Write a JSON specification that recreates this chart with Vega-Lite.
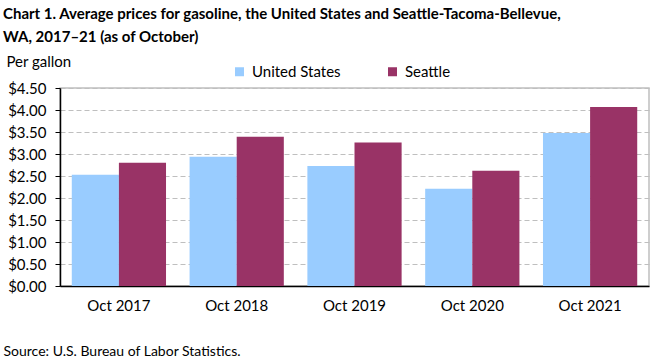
{
  "$schema": "https://vega.github.io/schema/vega-lite/v6.json",
  "width": 589,
  "height": 198,
  "autosize": {"type": "none"},
  "padding": {"left": 60, "top": 88, "right": 12, "bottom": 75},
  "background": "white",
  "config": {
    "font": "Lato",
    "view": {"stroke": "#bfbfbf", "strokeWidth": 1.5},
    "axis": {"labelFont": "Lato", "titleFont": "Lato"}
  },
  "title": {
    "text": ["Chart 1. Average prices for gasoline, the United States and Seattle-Tacoma-Bellevue,", "WA, 2017–21 (as of October)"],
    "anchor": "start",
    "frame": "group",
    "font": "Lato",
    "fontSize": 15,
    "fontWeight": "bold",
    "color": "#000000",
    "lineHeight": 23,
    "dx": -57,
    "dy": -5,
    "offset": 4
  },
  "data": {
    "values": [
      {"month": "Oct 2017", "series": "United States", "price": 2.53},
      {"month": "Oct 2017", "series": "Seattle", "price": 2.80},
      {"month": "Oct 2018", "series": "United States", "price": 2.94},
      {"month": "Oct 2018", "series": "Seattle", "price": 3.39},
      {"month": "Oct 2019", "series": "United States", "price": 2.73},
      {"month": "Oct 2019", "series": "Seattle", "price": 3.26},
      {"month": "Oct 2020", "series": "United States", "price": 2.21},
      {"month": "Oct 2020", "series": "Seattle", "price": 2.62},
      {"month": "Oct 2021", "series": "United States", "price": 3.48},
      {"month": "Oct 2021", "series": "Seattle", "price": 4.07}
    ]
  },
  "mark": {"type": "bar"},
  "encoding": {
    "x": {
      "field": "month",
      "type": "nominal",
      "scale": {"paddingInner": 0.2, "paddingOuter": 0.1},
      "axis": {
        "title": "Source: U.S. Bureau of Labor Statistics.",
        "titleX": -57,
        "titleY": 69,
        "titleAlign": "left",
        "titleBaseline": "alphabetic",
        "titleFontSize": 14,
        "titleFontWeight": "normal",
        "titleColor": "#000000",
        "labelAngle": 0,
        "labelFontSize": 15,
        "labelColor": "#000000",
        "labelPadding": 12,
        "ticks": false,
        "domainColor": "#000000",
        "domainWidth": 1.5
      }
    },
    "xOffset": {"field": "series", "type": "nominal", "sort": ["United States", "Seattle"], "scale": {"paddingInner": 0, "paddingOuter": 0}},
    "y": {
      "field": "price",
      "type": "quantitative",
      "scale": {"domain": [0, 4.5], "nice": false},
      "axis": {
        "values": [0, 0.5, 1, 1.5, 2, 2.5, 3, 3.5, 4, 4.5],
        "format": "$.2f",
        "title": "Per gallon",
        "titleAngle": 0,
        "titleAlign": "left",
        "titleBaseline": "alphabetic",
        "titleX": -54,
        "titleY": -22,
        "titleFontSize": 15,
        "titleFontWeight": "normal",
        "titleColor": "#000000",
        "labelFontSize": 15,
        "labelColor": "#000000",
        "labelPadding": 9,
        "tickSize": 5,
        "tickColor": "#000000",
        "domainColor": "#000000",
        "domainWidth": 1.5,
        "gridColor": "#bfbfbf",
        "gridDash": [5, 3],
        "gridWidth": 1
      }
    },
    "color": {
      "field": "series",
      "type": "nominal",
      "sort": ["United States", "Seattle"],
      "scale": {"domain": ["United States", "Seattle"], "range": ["#99ccff", "#993366"]},
      "legend": {
        "title": null,
        "orient": "none",
        "legendX": 172,
        "legendY": -24,
        "direction": "horizontal",
        "symbolType": "square",
        "symbolSize": 81,
        "symbolStrokeWidth": 0,
        "labelFontSize": 15,
        "labelColor": "#000000",
        "labelOffset": 5,
        "columnPadding": 44
      }
    }
  }
}
